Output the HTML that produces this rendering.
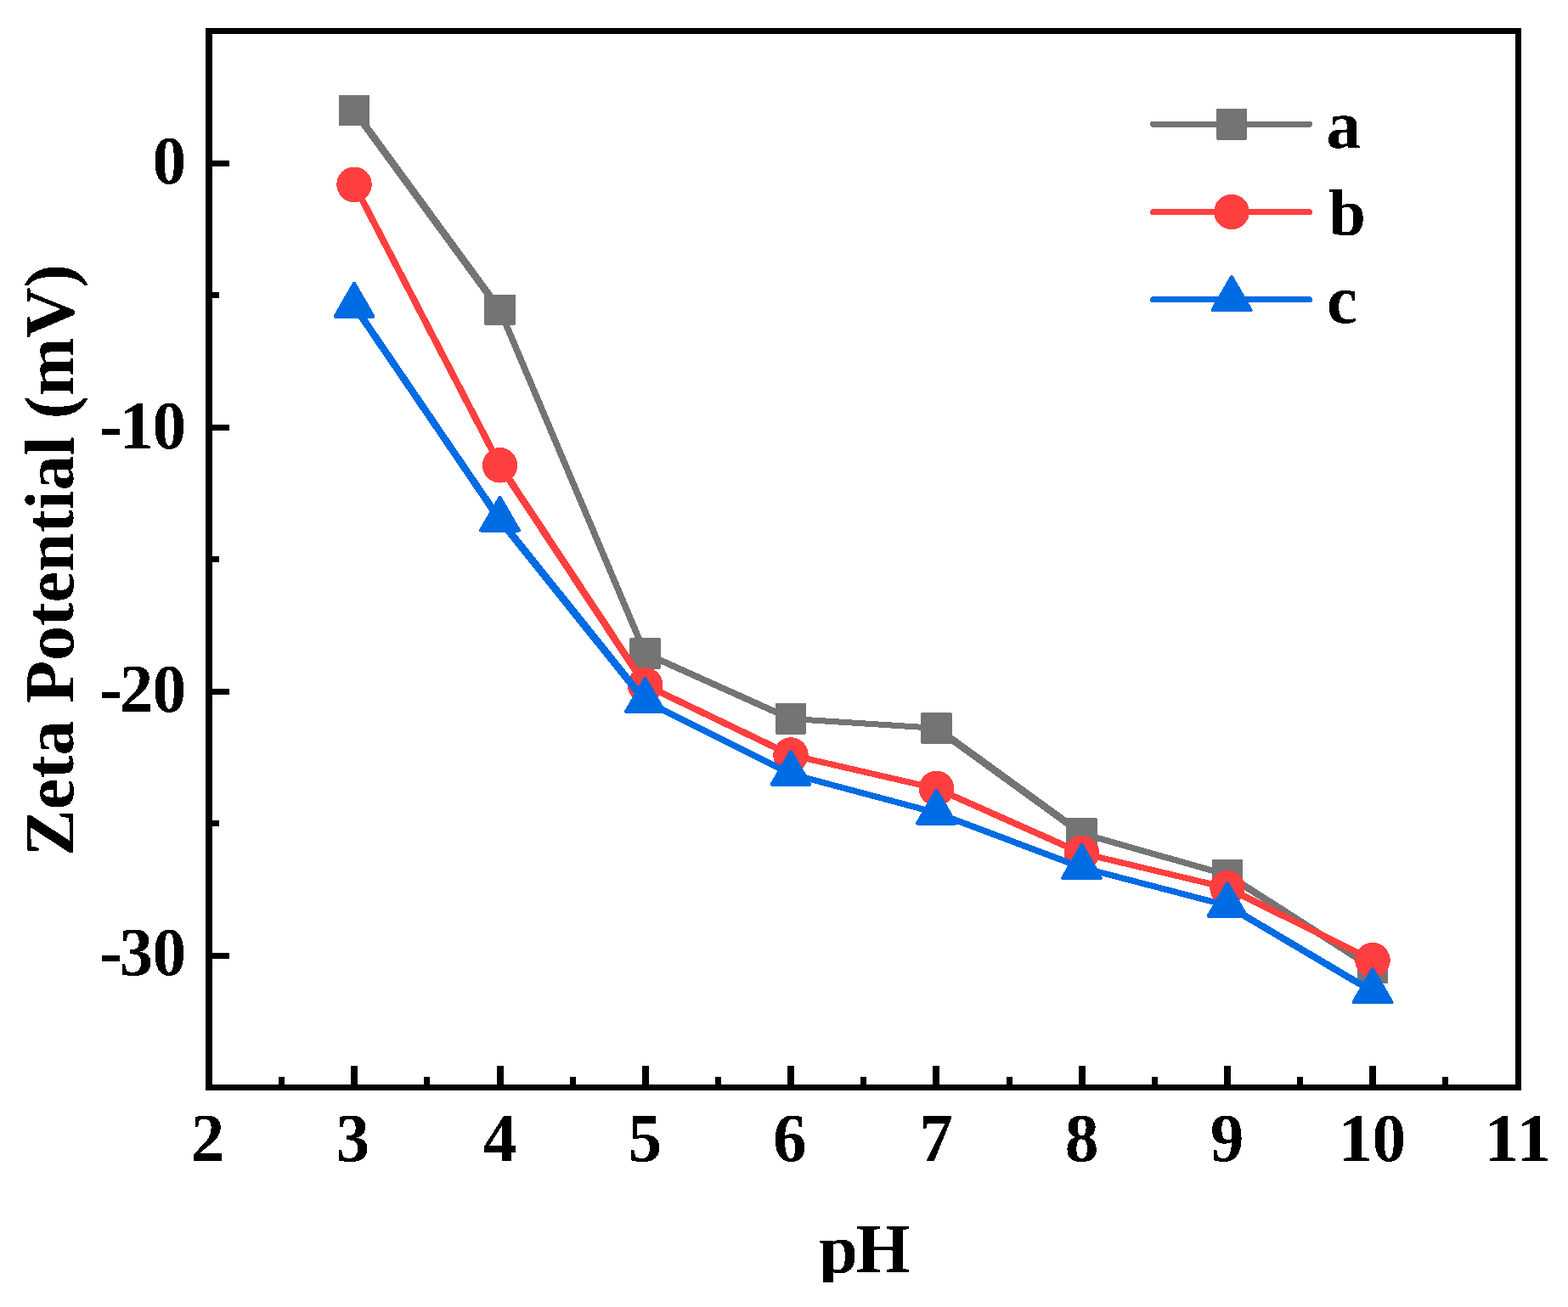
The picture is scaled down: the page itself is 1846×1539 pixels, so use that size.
<!DOCTYPE html>
<html><head><meta charset="utf-8"><title>Zeta Potential vs pH</title>
<style>
html,body{margin:0;padding:0;background:#fff;}
body{width:1846px;height:1539px;overflow:hidden;}
svg{display:block;}
text{font-family:"Liberation Serif","Times New Roman",serif;font-weight:bold;fill:#000;}
</style></head><body>
<svg width="1846" height="1539" viewBox="0 0 1846 1539">
<defs>
<filter id="bin" x="0" y="0" width="1846" height="1539" filterUnits="userSpaceOnUse" color-interpolation-filters="sRGB">
<feComponentTransfer><feFuncA type="discrete" tableValues="0 1"/></feComponentTransfer>
</filter>
<clipPath id="pclip"><rect x="0" y="0" width="1846" height="1510"/></clipPath>
</defs>
<rect width="1846" height="1539" fill="#fff"/>
<g shape-rendering="crispEdges">
<line x1="417.0" y1="130.2" x2="588.5" y2="364.9" stroke="#747474" stroke-width="8.67" stroke-linecap="round"/>
<line x1="588.5" y1="364.9" x2="759.5" y2="769.4" stroke="#747474" stroke-width="7.60" stroke-linecap="round"/>
<line x1="759.5" y1="769.4" x2="931.0" y2="846.4" stroke="#747474" stroke-width="7.67" stroke-linecap="round"/>
<line x1="931.0" y1="846.4" x2="1102.5" y2="857.4" stroke="#747474" stroke-width="7.01" stroke-linecap="round"/>
<line x1="1102.5" y1="857.4" x2="1273.5" y2="981.4" stroke="#747474" stroke-width="8.65" stroke-linecap="round"/>
<line x1="1273.5" y1="981.4" x2="1445.0" y2="1030.2" stroke="#747474" stroke-width="7.28" stroke-linecap="round"/>
<line x1="1445.0" y1="1030.2" x2="1616.0" y2="1139.5" stroke="#747474" stroke-width="8.31" stroke-linecap="round"/>
<rect x="400.25" y="113.45" width="33.5" height="33.5" fill="#747474" stroke="#747474" stroke-width="3" stroke-linejoin="round"/>
<rect x="571.75" y="348.15" width="33.5" height="33.5" fill="#747474" stroke="#747474" stroke-width="3" stroke-linejoin="round"/>
<rect x="742.75" y="752.65" width="33.5" height="33.5" fill="#747474" stroke="#747474" stroke-width="3" stroke-linejoin="round"/>
<rect x="914.25" y="829.65" width="33.5" height="33.5" fill="#747474" stroke="#747474" stroke-width="3" stroke-linejoin="round"/>
<rect x="1085.75" y="840.65" width="33.5" height="33.5" fill="#747474" stroke="#747474" stroke-width="3" stroke-linejoin="round"/>
<rect x="1256.75" y="964.65" width="33.5" height="33.5" fill="#747474" stroke="#747474" stroke-width="3" stroke-linejoin="round"/>
<rect x="1428.25" y="1013.45" width="33.5" height="33.5" fill="#747474" stroke="#747474" stroke-width="3" stroke-linejoin="round"/>
<rect x="1599.25" y="1122.75" width="33.5" height="33.5" fill="#747474" stroke="#747474" stroke-width="3" stroke-linejoin="round"/>
<line x1="417.0" y1="217.3" x2="588.5" y2="547.8" stroke="#FF3F3F" stroke-width="7.89" stroke-linecap="round"/>
<line x1="588.5" y1="547.8" x2="759.5" y2="806.5" stroke="#FF3F3F" stroke-width="8.39" stroke-linecap="round"/>
<line x1="759.5" y1="806.5" x2="931.0" y2="889.0" stroke="#FF3F3F" stroke-width="7.77" stroke-linecap="round"/>
<line x1="931.0" y1="889.0" x2="1102.5" y2="928.5" stroke="#FF3F3F" stroke-width="7.18" stroke-linecap="round"/>
<line x1="1102.5" y1="928.5" x2="1273.5" y2="1004.6" stroke="#FF3F3F" stroke-width="7.66" stroke-linecap="round"/>
<line x1="1273.5" y1="1004.6" x2="1445.0" y2="1045.5" stroke="#FF3F3F" stroke-width="7.20" stroke-linecap="round"/>
<line x1="1445.0" y1="1045.5" x2="1616.0" y2="1130.7" stroke="#FF3F3F" stroke-width="7.82" stroke-linecap="round"/>
<circle cx="417.0" cy="217.3" r="20.75" fill="#FF3F3F"/>
<circle cx="588.5" cy="547.8" r="20.75" fill="#FF3F3F"/>
<circle cx="759.5" cy="806.5" r="20.75" fill="#FF3F3F"/>
<circle cx="931.0" cy="889.0" r="20.75" fill="#FF3F3F"/>
<circle cx="1102.5" cy="928.5" r="20.75" fill="#FF3F3F"/>
<circle cx="1273.5" cy="1004.6" r="20.75" fill="#FF3F3F"/>
<circle cx="1445.0" cy="1045.5" r="20.75" fill="#FF3F3F"/>
<circle cx="1616.0" cy="1130.7" r="20.75" fill="#FF3F3F"/>
<line x1="417.0" y1="360.1" x2="588.5" y2="612.1" stroke="#006CE3" stroke-width="8.47" stroke-linecap="round"/>
<line x1="588.5" y1="612.1" x2="759.5" y2="825.4" stroke="#006CE3" stroke-width="8.97" stroke-linecap="round"/>
<line x1="759.5" y1="825.4" x2="931.0" y2="911.3" stroke="#006CE3" stroke-width="7.83" stroke-linecap="round"/>
<line x1="931.0" y1="911.3" x2="1102.5" y2="957.1" stroke="#006CE3" stroke-width="7.25" stroke-linecap="round"/>
<line x1="1102.5" y1="957.1" x2="1273.5" y2="1021.5" stroke="#006CE3" stroke-width="7.48" stroke-linecap="round"/>
<line x1="1273.5" y1="1021.5" x2="1445.0" y2="1066.3" stroke="#006CE3" stroke-width="7.23" stroke-linecap="round"/>
<line x1="1445.0" y1="1066.3" x2="1616.0" y2="1167.5" stroke="#006CE3" stroke-width="8.13" stroke-linecap="round"/>
<polygon points="417.00,333.60 439.50,372.57 394.50,372.57" fill="#006CE3" stroke="#006CE3" stroke-width="4" stroke-linejoin="round"/>
<polygon points="588.50,585.60 611.00,624.57 566.00,624.57" fill="#006CE3" stroke="#006CE3" stroke-width="4" stroke-linejoin="round"/>
<polygon points="759.50,798.90 782.00,837.87 737.00,837.87" fill="#006CE3" stroke="#006CE3" stroke-width="4" stroke-linejoin="round"/>
<polygon points="931.00,884.80 953.50,923.77 908.50,923.77" fill="#006CE3" stroke="#006CE3" stroke-width="4" stroke-linejoin="round"/>
<polygon points="1102.50,930.60 1125.00,969.57 1080.00,969.57" fill="#006CE3" stroke="#006CE3" stroke-width="4" stroke-linejoin="round"/>
<polygon points="1273.50,995.00 1296.00,1033.97 1251.00,1033.97" fill="#006CE3" stroke="#006CE3" stroke-width="4" stroke-linejoin="round"/>
<polygon points="1445.00,1039.80 1467.50,1078.77 1422.50,1078.77" fill="#006CE3" stroke="#006CE3" stroke-width="4" stroke-linejoin="round"/>
<polygon points="1616.00,1141.00 1638.50,1179.97 1593.50,1179.97" fill="#006CE3" stroke="#006CE3" stroke-width="4" stroke-linejoin="round"/>
<line x1="1357.5" y1="146.3" x2="1541.5" y2="146.3" stroke="#747474" stroke-width="7" stroke-linecap="round"/>
<rect x="1433.25" y="129.55" width="33.5" height="33.5" fill="#747474" stroke="#747474" stroke-width="3" stroke-linejoin="round"/>
<line x1="1357.5" y1="249.5" x2="1541.5" y2="249.5" stroke="#FF3F3F" stroke-width="7" stroke-linecap="round"/>
<circle cx="1450.0" cy="249.5" r="20.75" fill="#FF3F3F"/>
<line x1="1357.5" y1="352.5" x2="1541.5" y2="352.5" stroke="#006CE3" stroke-width="7" stroke-linecap="round"/>
<polygon points="1450.00,326.00 1472.50,364.97 1427.50,364.97" fill="#006CE3" stroke="#006CE3" stroke-width="4" stroke-linejoin="round"/>
</g>
<g fill="#000" shape-rendering="crispEdges">
<rect x="242" y="33" width="8" height="1251"/>
<rect x="1784" y="33" width="7" height="1251"/>
<rect x="242" y="33" width="1549" height="7"/>
<rect x="242" y="1277" width="1549" height="7"/>
<rect x="242" y="188.5" width="28" height="7"/>
<rect x="242" y="499.5" width="28" height="7"/>
<rect x="242" y="810.5" width="28" height="7"/>
<rect x="242" y="1121.5" width="28" height="7"/>
<rect x="242" y="344.0" width="16" height="7"/>
<rect x="242" y="655.0" width="16" height="7"/>
<rect x="242" y="966.0" width="16" height="7"/>
<rect x="413.3" y="1255" width="8" height="29"/>
<rect x="584.6" y="1255" width="8" height="29"/>
<rect x="755.8" y="1255" width="8" height="29"/>
<rect x="927.1" y="1255" width="8" height="29"/>
<rect x="1098.4" y="1255" width="8" height="29"/>
<rect x="1269.7" y="1255" width="8" height="29"/>
<rect x="1441.0" y="1255" width="8" height="29"/>
<rect x="1612.2" y="1255" width="8" height="29"/>
<rect x="328.1" y="1268" width="7" height="16"/>
<rect x="499.4" y="1268" width="7" height="16"/>
<rect x="670.7" y="1268" width="7" height="16"/>
<rect x="842.0" y="1268" width="7" height="16"/>
<rect x="1013.3" y="1268" width="7" height="16"/>
<rect x="1184.5" y="1268" width="7" height="16"/>
<rect x="1355.8" y="1268" width="7" height="16"/>
<rect x="1527.1" y="1268" width="7" height="16"/>
<rect x="1698.4" y="1268" width="7" height="16"/>
</g>
<g filter="url(#bin)">
<text x="224.6" y="1367" font-size="79.4">2</text>
<text x="395.4" y="1367" font-size="79.4">3</text>
<text x="568.5" y="1367" font-size="79.4">4</text>
<text x="739.5" y="1367" font-size="79.4">5</text>
<text x="910.0" y="1367" font-size="79.4">6</text>
<text x="1082.2" y="1367" font-size="79.4">7</text>
<text x="1253.7" y="1367" font-size="79.4">8</text>
<text x="1424.8" y="1367" font-size="79.4">9</text>
<text x="1576.0 1615.6" y="1367" font-size="79.4">10</text>
<text x="1747.9 1785.9" y="1367" font-size="79.4">11</text>
<text x="179.6" y="216.3" font-size="79.4">0</text>
<text x="117.2 140.9 179.6" y="528" font-size="79.4">-10</text>
<text x="117.2 140.5 179.6" y="838" font-size="79.4">-20</text>
<text x="117.2 140.5 179.6" y="1148.4" font-size="79.4">-30</text>
<text x="964.3 1008.1" y="1498" font-size="82" clip-path="url(#pclip)">pH</text>
<text transform="translate(86.2,659.5) rotate(-90)" font-size="82" text-anchor="middle">Zeta Potential (mV)</text>
<text x="1561.5" y="174.3" font-size="81">a</text>
<text x="1564.1" y="277.2" font-size="79">b</text>
<text x="1561.9" y="380.1" font-size="81">c</text>
</g>
</svg></body></html>
